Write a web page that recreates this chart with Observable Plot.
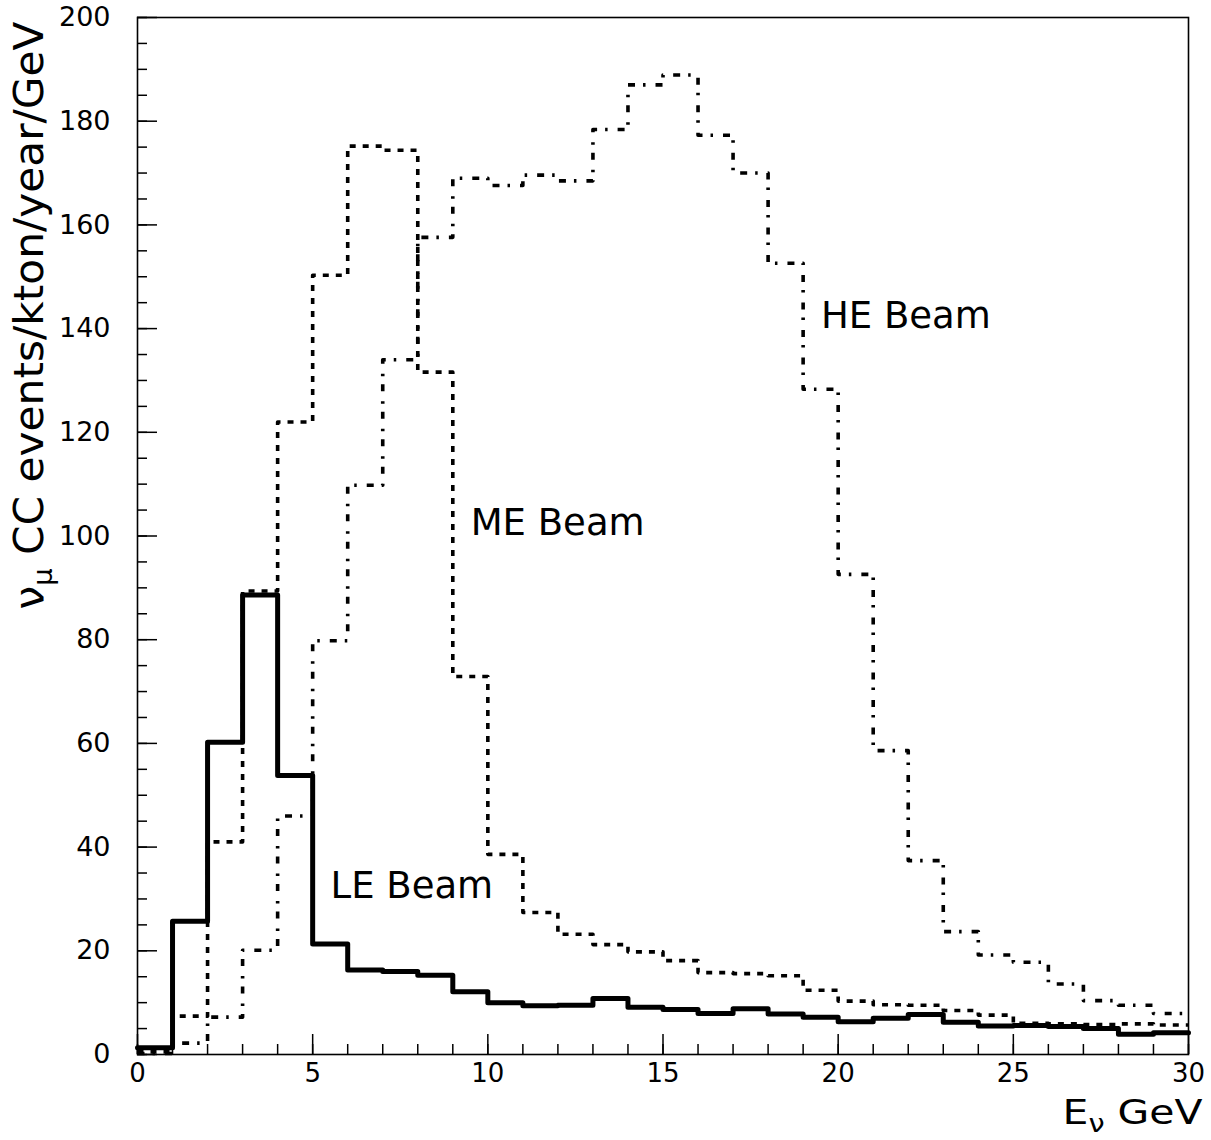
<!DOCTYPE html>
<html>
<head>
<meta charset="utf-8">
<script src="https://cdn.jsdelivr.net/npm/d3@7"></script>
<script src="https://cdn.jsdelivr.net/npm/@observablehq/plot@0.6"></script>
<style>
  body { margin: 0; background: #fff; }
  #chart svg { display: block; }
</style>
</head>
<body>
<div id="chart"></div>
<script>
// ---- data ----
const binEdges = [0,1,2,3,4,5,6,7,8,9,10,11,12,13,14,15,16,17,18,19,20,21,22,23,24,25,26,27,28,29,30];
const leBeam = [1.3, 25.7, 60.2, 88.6, 53.8, 21.3, 16.3, 16.0, 15.3, 12.1,
                10.0, 9.4, 9.5, 10.8, 9.1, 8.7, 7.9, 8.8, 7.8, 7.2,
                6.3, 7.0, 7.7, 6.2, 5.5, 5.6, 5.4, 5.0, 3.9, 4.2];
const meBeam = [0.5, 7.4, 41.0, 89.4, 122.0, 150.3, 175.2, 174.4, 131.6, 72.9,
                38.6, 27.4, 23.2, 21.2, 19.8, 18.1, 15.8, 15.6, 15.2, 12.4,
                10.3, 9.6, 9.5, 8.5, 7.6, 6.0, 5.9, 5.8, 5.9, 5.7];
const heBeam = [0.2, 2.2, 7.2, 20.1, 46.0, 79.8, 109.8, 134.0, 157.6, 169.0,
                167.6, 169.6, 168.5, 178.4, 187.0, 188.9, 177.3, 170.0, 152.6, 128.3,
                92.6, 58.6, 37.4, 23.7, 19.2, 17.8, 13.6, 10.4, 9.5, 7.9];
const xTickValues = [0, 5, 10, 15, 20, 25, 30];
const yTickValues = [0, 20, 40, 60, 80, 100, 120, 140, 160, 180, 200];
const beamLabels = ["LE Beam", "ME Beam", "HE Beam"];
const beamLabelX = [5.51, 9.51, 19.51];
const beamLabelY = [30.1, 100.1, 140.2];
const xTitle = "Eν GeV";
const yTitle = "νμ CC events/kton/year/GeV";

// ---- tables built from the arrays ----
const stepTable = (values) =>
  binEdges.map((e, i) => ({E: e, N: values[Math.min(i, values.length - 1)]}));
const leSteps = stepTable(leBeam);
const meSteps = stepTable(meBeam);
const heSteps = stepTable(heBeam);
const labelTable = beamLabels.map((t, i) => ({t, x: beamLabelX[i], y: beamLabelY[i]}));
const xMinor = d3.range(0, 31, 1);
const yMinor = d3.range(0, 201, 5);

const FONT = "DejaVu Sans, Liberation Sans, sans-serif";

const chart = Plot.plot({
  width: 1211,
  height: 1140,
  marginLeft: 137,
  marginRight: 23,
  marginTop: 17,
  marginBottom: 86,
  x: {domain: [0, 30]},
  y: {domain: [0, 200]},
  style: {background: "white", color: "black", fontFamily: FONT},
  marks: [
    // inward minor & major ticks
    Plot.axisX(xMinor, {anchor: "bottom", tickSize: -10, text: null, label: null, strokeWidth: 1.5}),
    Plot.axisX(xTickValues, {anchor: "bottom", tickSize: -20, text: null, label: null, strokeWidth: 1.5}),
    Plot.axisX(xTickValues, {anchor: "bottom", tickSize: 0, tickPadding: 9, fontSize: 26, label: null, fontFamily: FONT}),
    Plot.axisY(yMinor, {anchor: "left", tickSize: -10, text: null, label: null, strokeWidth: 1.5}),
    Plot.axisY(yTickValues, {anchor: "left", tickSize: -20, text: null, label: null, strokeWidth: 1.5}),
    Plot.axisY(yTickValues, {anchor: "left", tickSize: 0, tickPadding: 27, fontSize: 27, label: null, fontFamily: FONT}),
    Plot.frame({stroke: "black", strokeWidth: 1.6}),
    // histograms
    Plot.line(heSteps, {x: "E", y: "N", curve: "step-after", stroke: "black", strokeWidth: 3.6,
      strokeDasharray: "7,8,2.5,10", strokeLinecap: "butt"}),
    Plot.line(meSteps, {x: "E", y: "N", curve: "step-after", stroke: "black", strokeWidth: 3.6,
      strokeDasharray: "6,7", strokeLinecap: "butt"}),
    Plot.line(leSteps, {x: "E", y: "N", curve: "step-after", stroke: "black", strokeWidth: 5}),
    // beam labels
    Plot.text(labelTable, {x: "x", y: "y", text: "t", textAnchor: "start", lineAnchor: "bottom",
      fontSize: 37, fontFamily: FONT, fill: "black"}),
    // axis titles
    Plot.text([xTitle], {text: d => d, frameAnchor: "bottom-right", dx: 14, dy: 69,
      textAnchor: "end", lineAnchor: "bottom", fontSize: 34, fontFamily: FONT, fill: "black"}),
    Plot.text([yTitle], {text: d => d, frameAnchor: "top-left", dx: -107, dy: 298, rotate: -90,
      textAnchor: "middle", lineAnchor: "middle", fontSize: 40, fontFamily: FONT, fill: "black"})
  ]
});

document.getElementById("chart").appendChild(chart);

// subscripts for the axis titles
chart.querySelectorAll("text").forEach((el) => {
  if (el.textContent === yTitle) {
    el.innerHTML = 'ν<tspan dy="9" font-size="26">μ</tspan><tspan dy="-9"> CC events/kton/year/GeV</tspan>';
    el.setAttribute("textLength", "588");
    el.setAttribute("lengthAdjust", "spacingAndGlyphs");
  } else if (el.textContent === xTitle) {
    el.innerHTML = 'E<tspan dy="8" font-size="24">ν</tspan><tspan dy="-8"> GeV</tspan>';
    el.setAttribute("textLength", "140");
    el.setAttribute("lengthAdjust", "spacingAndGlyphs");
  }
});
</script>
</body>
</html>
